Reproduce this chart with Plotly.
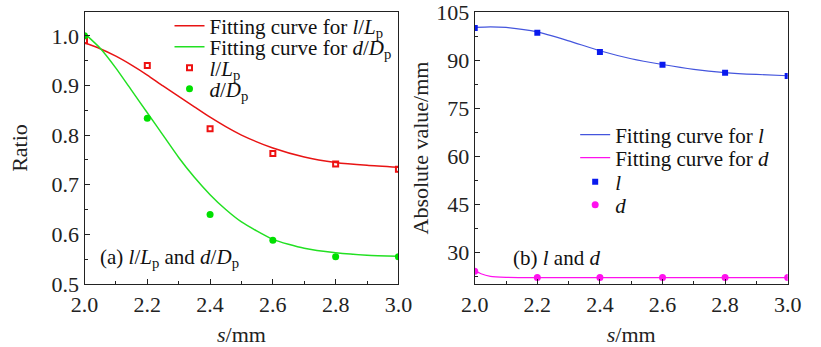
import plotly.graph_objects as go

# ---- data ----
s_pts = [2.0, 2.2, 2.4, 2.6, 2.8, 3.0]
ratio_l = [0.990, 0.940, 0.813, 0.763, 0.742, 0.731]
ratio_d = [1.000, 0.834, 0.640, 0.588, 0.555, 0.555]

s_fit = [2.0, 2.05, 2.1, 2.15, 2.2, 2.25, 2.3, 2.35, 2.4, 2.45, 2.5, 2.6, 2.7, 2.8, 2.9, 3.0]
fit_ratio_l = [0.986, 0.974, 0.959, 0.941, 0.921, 0.899, 0.878, 0.857, 0.836, 0.817, 0.800, 0.774, 0.756, 0.745, 0.739, 0.735]
fit_ratio_d = [1.005, 0.975, 0.935, 0.890, 0.845, 0.800, 0.755, 0.715, 0.680, 0.650, 0.625, 0.590, 0.572, 0.563, 0.558, 0.556]

abs_l = [100.0, 98.5, 92.5, 88.5, 86.0, 85.0]
abs_d = [24.0, 22.0, 22.0, 22.0, 22.0, 22.0]
s_fit_abs = [2.0, 2.05, 2.1, 2.2, 2.3, 2.4, 2.5, 2.6, 2.7, 2.8, 2.9, 3.0]
fit_abs_l = [100.2, 100.4, 100.2, 98.8, 96.0, 92.9, 90.4, 88.6, 87.1, 86.1, 85.5, 85.1]
s_fit_d = [2.0, 2.02, 2.05, 2.1, 2.2, 2.4, 2.6, 2.8, 3.0]
fit_abs_d = [24.2, 23.2, 22.4, 22.1, 22.0, 22.0, 22.0, 22.0, 22.0]

x_ticks = [2.0, 2.2, 2.4, 2.6, 2.8, 3.0]
x_ticklabels = ["2.0", "2.2", "2.4", "2.6", "2.8", "3.0"]

FONT = "Liberation Serif"
W, H = 821, 347
TOP, BOT = 12, 284


def py(p):
    return (BOT - p) / (BOT - TOP)


fig = go.Figure()

# left panel
fig.add_trace(go.Scatter(x=s_fit, y=fit_ratio_l, mode="lines", line=dict(color="#e81414", width=1.5, shape="spline", smoothing=0.6),
                         name="Fitting curve for <i>l</i>/<i>L</i><sub>p</sub>", xaxis="x", yaxis="y", legend="legend"))
fig.add_trace(go.Scatter(x=s_fit, y=fit_ratio_d, mode="lines", line=dict(color="#22e022", width=1.5, shape="spline", smoothing=0.6),
                         name="Fitting curve for <i>d</i>/<i>D</i><sub>p</sub>", xaxis="x", yaxis="y", legend="legend2"))
fig.add_trace(go.Scatter(x=s_pts, y=ratio_l, mode="markers",
                         marker=dict(symbol="square-open", size=5, color="#ee1111", line=dict(width=2, color="#ee1111")),
                         name="<i>l</i>/<i>L</i><sub>p</sub>", xaxis="x", yaxis="y", legend="legend3"))
fig.add_trace(go.Scatter(x=s_pts, y=ratio_d, mode="markers",
                         marker=dict(symbol="circle", size=7, color="#00e000"),
                         name="<i>d</i>/<i>D</i><sub>p</sub>", xaxis="x", yaxis="y", legend="legend4"))

# right panel
fig.add_trace(go.Scatter(x=s_fit_abs, y=fit_abs_l, mode="lines", line=dict(color="#4455dd", width=1.2, shape="spline", smoothing=0.6),
                         name="Fitting curve for <i>l</i>", xaxis="x2", yaxis="y2", legend="legend5"))
fig.add_trace(go.Scatter(x=s_fit_d, y=fit_abs_d, mode="lines", line=dict(color="#ff11ee", width=1.2, shape="spline", smoothing=0.6),
                         name="Fitting curve for <i>d</i>", xaxis="x2", yaxis="y2", legend="legend6"))
fig.add_trace(go.Scatter(x=s_pts, y=abs_l, mode="markers", marker=dict(symbol="square", size=6, color="#0a1aee"),
                         name="<i>l</i>", xaxis="x2", yaxis="y2", legend="legend7"))
fig.add_trace(go.Scatter(x=s_pts, y=abs_d, mode="markers", marker=dict(symbol="circle", size=7, color="#ff11ee"),
                         name="<i>d</i>", xaxis="x2", yaxis="y2", legend="legend8"))

axis_common = dict(showgrid=False, zeroline=False, showline=True, linecolor="#222", linewidth=1.2, mirror=True,
                   tickfont=dict(family=FONT, size=22, color="#222"), tickcolor="#222",
                   ticklabeloverflow="allow")

xcommon = dict(axis_common, range=[2.0, 3.0], tickmode="array", tickvals=x_ticks, ticktext=x_ticklabels,
               ticks="inside", ticklen=5,
               minor=dict(ticks="inside", ticklen=3, dtick=0.1, tick0=2.0, tickcolor="#222"),
               title=dict(text="<i>s</i>/mm", font=dict(family=FONT, size=22, color="#222"), standoff=11))

leg_font = dict(family=FONT, size=21, color="#111")


def leg(xp, yp):
    return dict(x=xp / W, xanchor="left", y=py(yp), yanchor="middle", bgcolor="rgba(0,0,0,0)",
                font=leg_font, itemwidth=30, tracegroupgap=0, borderwidth=0)


LX, RX = 161, 581
fig.update_layout(
    width=W, height=H,
    margin=dict(l=0, r=0, t=TOP, b=H - BOT),
    paper_bgcolor="white", plot_bgcolor="white",
    showlegend=True,
    font=dict(family=FONT, color="#222"),
    xaxis=dict(xcommon, domain=[73 / W, 398 / W], anchor="y"),
    yaxis=dict(axis_common, domain=[0, 1], anchor="x", range=[0.5, 1.048], dtick=0.1, tick0=0.5,
               tickformat=".1f", ticks="inside", ticklen=5,
               minor=dict(ticks="inside", ticklen=3, dtick=0.05, tick0=0.5, tickcolor="#222"),
               title=dict(text="Ratio", font=dict(family=FONT, size=22, color="#222"), standoff=17)),
    xaxis2=dict(xcommon, domain=[477 / W, 801 / W], anchor="y2"),
    yaxis2=dict(axis_common, domain=[0, 1], anchor="x2", range=[20, 105.02], tickmode="array",
                tickvals=[30, 45, 60, 75, 90, 105],
                ticks="inside", ticklen=5,
                minor=dict(ticks="inside", ticklen=3, dtick=7.5, tick0=0, tickcolor="#222"),
                title=dict(text="Absolute value/mm", font=dict(family=FONT, size=22, color="#222"), standoff=1)),
    legend=leg(LX, 26),
    legend2=leg(LX, 47),
    legend3=leg(LX, 68),
    legend4=leg(LX, 89),
    legend5=leg(RX, 135),
    legend6=leg(RX, 158),
    legend7=leg(RX, 182),
    legend8=leg(RX, 205),
    annotations=[
        dict(text="(a) <i>l</i>/<i>L</i><sub>p</sub> and <i>d</i>/<i>D</i><sub>p</sub>", xref="paper", yref="paper",
             x=87 / W, xanchor="left", y=py(258), yanchor="middle", showarrow=False,
             font=dict(family=FONT, size=21, color="#111")),
        dict(text="(b) <i>l</i> and <i>d</i>", xref="paper", yref="paper",
             x=515 / W, xanchor="left", y=py(258), yanchor="middle", showarrow=False,
             font=dict(family=FONT, size=21, color="#111")),
    ],
)

fig.write_html("out.html")
